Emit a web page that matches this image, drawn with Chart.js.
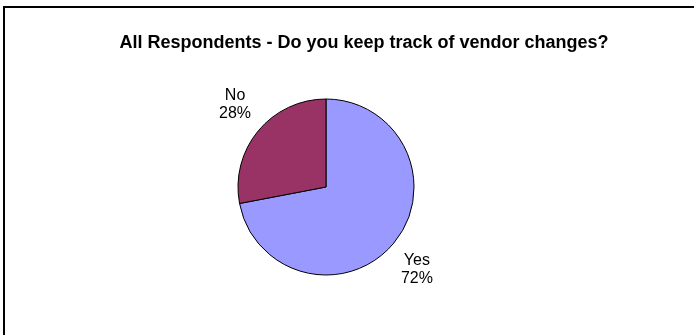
<!DOCTYPE html>
<html>
<head>
<meta charset="utf-8">
<script src="https://cdnjs.cloudflare.com/ajax/libs/Chart.js/4.4.1/chart.umd.min.js"></script>
<style>
	html, body { margin: 0; padding: 0; background: #fff; overflow: hidden; }
	.wrap { position: relative; width: 694px; height: 335px; }
	.frame {
		position: absolute; left: 3px; top: 6px; width: 800px; height: 400px;
		border-left: 2px solid #000; border-top: 2px solid #000;
	}
	canvas { position: absolute; left: 0; top: 0; }
</style>
</head>
<body>
<div class="wrap">
	<div class="frame"></div>
	<canvas id="chart" width="694" height="335"></canvas>
</div>
<script type="text/javascript">
	let title = "All Respondents - Do you keep track of vendor changes?"
	let categories = ["Yes", "No"]
	let values = [72, 28]
	let colors = ["#9999FF", "#993366"]

	// title + outside labels, placed from the arcs' own geometry
	let labelPlugin = {
		id: "labels",
		afterDraw: function(chart) {
			let ctx = chart.ctx
			ctx.save()
			ctx.fillStyle = "#000"
			ctx.textAlign = "center"
			ctx.textBaseline = "middle"
			ctx.font = "bold 18px 'Liberation Sans', Arial, sans-serif"
			ctx.fillText(title, 364, 43)
			ctx.font = "16px 'Liberation Sans', Arial, sans-serif"
			let total = values.reduce(function(a, b) { return a + b }, 0)
			chart.getDatasetMeta(0).data.forEach(function(arc, i) {
				let p = arc.getProps(["x", "y", "startAngle", "endAngle", "outerRadius"], true)
				let mid = (p.startAngle + p.endAngle) / 2
				// label box is taller than wide, so push it further vertically
				let x = p.x + Math.cos(mid) * (p.outerRadius + 30)
				let y = p.y + Math.sin(mid) * (p.outerRadius + 42)
				let pct = Math.round(values[i] / total * 100) + "%"
				ctx.fillText(categories[i], x, y - 9)
				ctx.fillText(pct, x, y + 9)
			})
			ctx.restore()
		}
	}

	let elem = document.querySelector("#chart")
	let chart = new Chart(elem, {
		type: "pie",
		data: {
			labels: categories,
			datasets: [{
				data: values,
				backgroundColor: colors,
				borderColor: "#000",
				borderWidth: 1,
				radius: 88,
			}],
		},
		options: {
			responsive: false,
			animation: false,
			layout: {
				padding: { left: 0, right: 42, top: 39, bottom: 0 },
			},
			plugins: {
				legend: { display: false },
				tooltip: { enabled: false },
				title: { display: false },
			},
		},
		plugins: [labelPlugin],
	})
</script>
</body>
</html>
